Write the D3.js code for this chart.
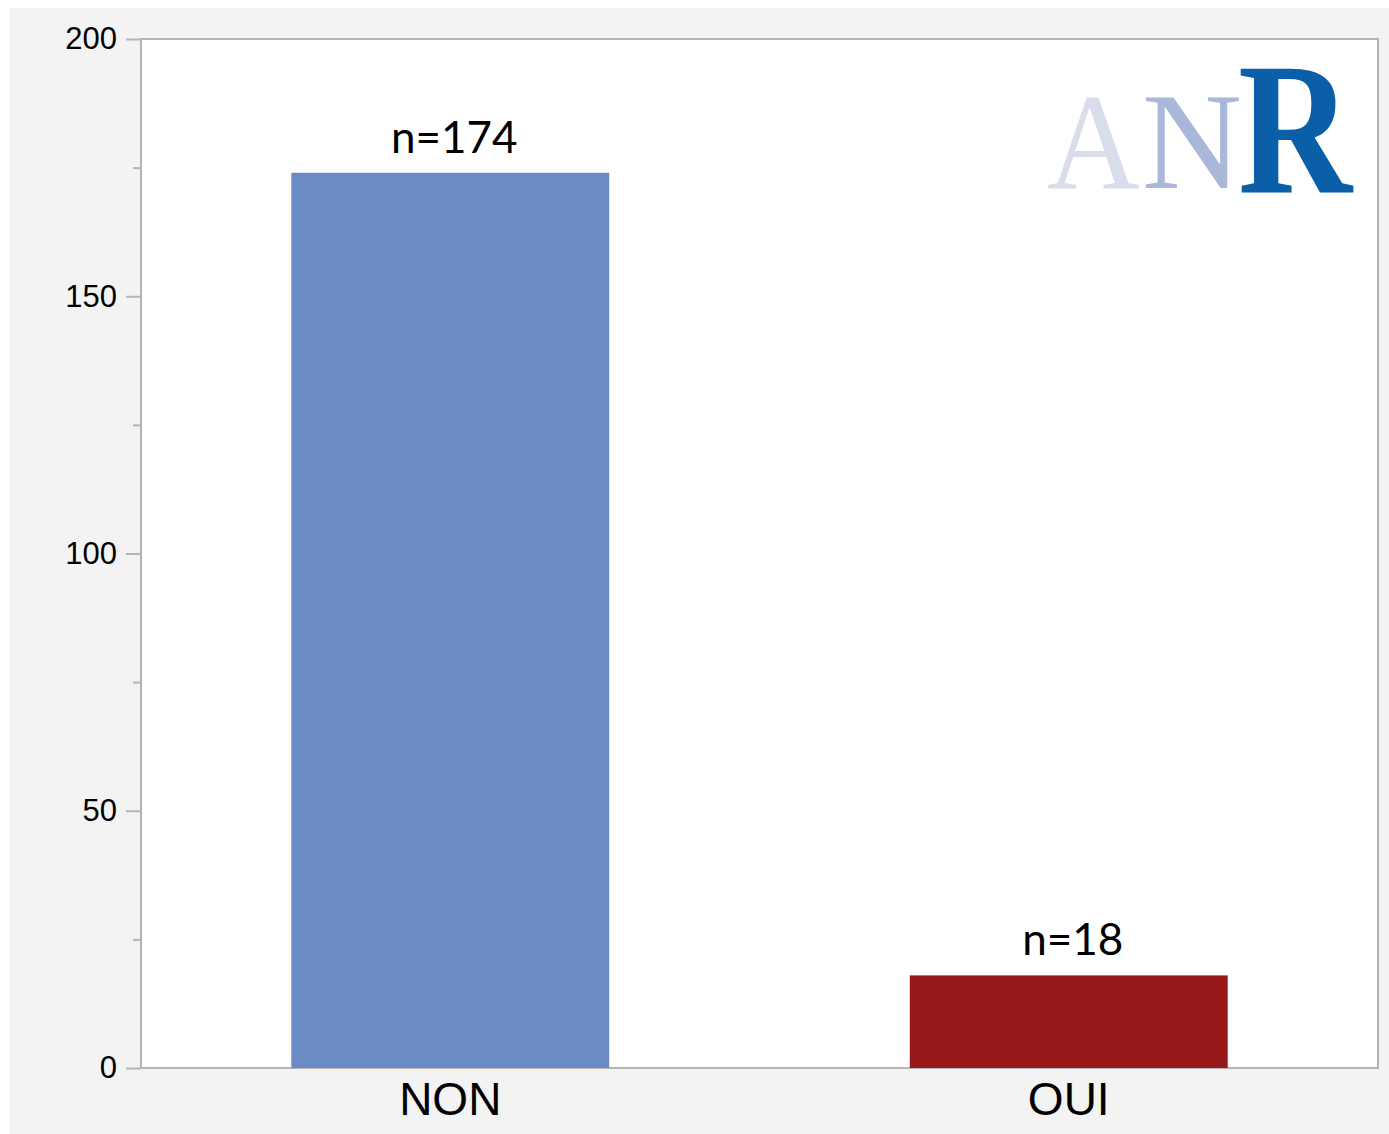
<!DOCTYPE html>
<html><head><meta charset="utf-8">
<script src="https://cdn.jsdelivr.net/npm/d3@7"></script>
<style>html,body{margin:0;padding:0;background:#fff;}svg{display:block;}</style>
</head><body>
<script>
const categories = ["NON", "OUI"];
const values = [174, 18];
const valueLabels = ["n=174", "n=18"];
const barColors = ["#6a8bc4", "#961818"];
const majorTicks = [0, 50, 100, 150, 200];
const minorTicks = [25, 75, 125, 175];
const logoLetters = ["A", "N", "R"];

const W = 1389, H = 1134;
const svg = d3.select("body").append("svg").attr("width", W).attr("height", H);
svg.append("rect").attr("x", 9).attr("y", 8).attr("width", W - 9).attr("height", H - 8).attr("fill", "#f3f3f3");

const m = {left: 141, top: 39, right: 1378, bottom: 1068};
const x = d3.scaleBand().domain(categories).range([m.left, m.right]).paddingInner(0.486).paddingOuter(0.243);
const y = d3.scaleLinear().domain([0, 200]).range([m.bottom, m.top]);

svg.append("rect").attr("x", m.left).attr("y", m.top).attr("width", m.right - m.left).attr("height", m.bottom - m.top)
  .attr("fill", "#fff").attr("stroke", "#b4b4b4").attr("stroke-width", 2);

// logo
const logo = svg.append("g").attr("font-family", "'Liberation Serif','Times New Roman',serif");
const logoSpec = [
  {x: 1047, y: 188, size: 137, w: 93, color: "#d8ddec", weight: "normal"},
  {x: 1142, y: 188, size: 137, w: 100, color: "#a9b7d9", weight: "normal"},
  {x: 1238, y: 192, size: 188, w: 114, color: "#0b5fa8", weight: "bold"}
];
logoLetters.forEach((l, i) => {
  const s = logoSpec[i];
  logo.append("text").attr("x", s.x).attr("y", s.y).attr("font-size", s.size).attr("font-weight", s.weight)
    .attr("fill", s.color).attr("textLength", s.w).attr("lengthAdjust", "spacingAndGlyphs").text(l);
});

// bars
svg.selectAll("rect.bar").data(categories).join("rect").attr("class", "bar")
  .attr("x", d => x(d)).attr("width", x.bandwidth())
  .attr("y", (d, i) => y(values[i])).attr("height", (d, i) => y(0) - y(values[i]))
  .attr("fill", (d, i) => barColors[i]);

svg.selectAll("text.vlabel").data(categories).join("text").attr("class", "vlabel")
  .attr("x", d => x(d) + x.bandwidth() / 2 + 4)
  .attr("y", (d, i) => y(values[i]) - 20)
  .attr("text-anchor", "middle").attr("font-family", "Lato, 'Open Sans', sans-serif")
  .attr("font-size", 44).attr("fill", "#000").text((d, i) => valueLabels[i]);

// y axis
const yAxis = svg.append("g").attr("transform", `translate(${m.left},0)`)
  .call(d3.axisLeft(y).tickValues(majorTicks).tickSize(15).tickPadding(9).tickFormat(d3.format("d")));
yAxis.select(".domain").remove();
yAxis.selectAll("line").attr("stroke", "#b4b4b4").attr("stroke-width", 2);
yAxis.selectAll("text").attr("font-family", "'Liberation Sans', Arial, sans-serif").attr("font-size", 31).attr("fill", "#000");

const yMinor = svg.append("g").attr("transform", `translate(${m.left},0)`)
  .call(d3.axisLeft(y).tickValues(minorTicks).tickSize(8).tickFormat(""));
yMinor.select(".domain").remove();
yMinor.selectAll("line").attr("stroke", "#b4b4b4").attr("stroke-width", 2);

// x axis
const xAxis = svg.append("g").attr("transform", `translate(0,${m.bottom})`)
  .call(d3.axisBottom(x).tickSize(0).tickPadding(14));
xAxis.select(".domain").remove();
xAxis.selectAll("text").attr("font-family", "'Liberation Sans', Arial, sans-serif").attr("font-size", 46).attr("fill", "#000");
</script>
</body></html>
